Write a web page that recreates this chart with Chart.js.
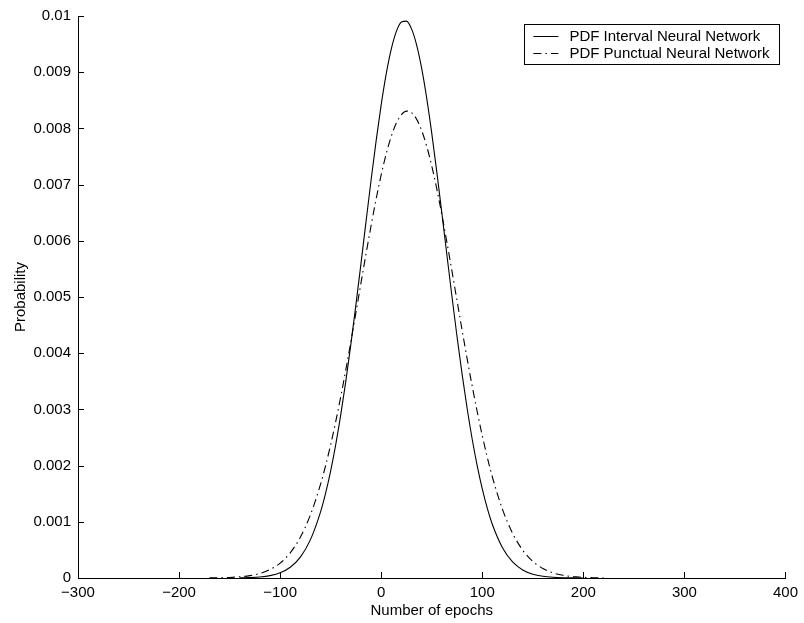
<!DOCTYPE html>
<html>
<head>
<meta charset="utf-8">
<script src="https://cdn.jsdelivr.net/npm/chart.js@4.4.1/dist/chart.umd.min.js"></script>
<style>
  html, body { margin: 0; padding: 0; background: #fff; }
  #wrap { width: 804px; height: 623px; }
</style>
</head>
<body>
<div id="wrap"><canvas id="c" width="804" height="623"></canvas></div>
<script>
// ---- Data ----
const seriesLabels = ['PDF Interval Neural Network', 'PDF Punctual Neural Network'];

const epochsInterval = [-140,-130,-120,-110,-100,-90,-80,-70,-60,-55,-50,-45,-40,-35,-30,-25,-20,-15,-10,-5,0,5,10,15,20,25,30,35,40,45,50,55,60,65,70,75,80,85,90,95,100,105,110,120,130,140,150,160,170,180,190,200];
const pdfInterval = [0.0000027,0.0000071,0.0000177,0.0000416,0.000092,0.000191,0.000372,0.000683,0.001177,0.001511,0.001908,0.002373,0.002906,0.003504,0.004161,0.004864,0.005598,0.006346,0.007082,0.007783,0.008422,0.008974,0.009414,0.009726,0.009892,0.009908,0.009771,0.009488,0.009072,0.008540,0.007917,0.007227,0.006495,0.005748,0.005009,0.004297,0.003631,0.003020,0.002473,0.001995,0.001585,0.001239,0.000953,0.000540,0.000287,0.000144,0.000067,0.0000298,0.0000124,0.0000048,0.0000018,0.0000006];

const epochsPunctual = [-170,-160,-150,-140,-130,-120,-110,-100,-90,-80,-70,-60,-55,-50,-45,-40,-35,-30,-25,-20,-15,-10,-5,0,5,10,15,20,25,30,35,40,45,50,55,60,65,70,75,80,85,90,95,100,105,110,120,130,140,150,160,170,180,190,200,210,220];
const pdfPunctual = [0.0000020,0.0000046,0.0000100,0.0000210,0.0000423,0.0000814,0.000150,0.000265,0.000448,0.000726,0.001125,0.001670,0.002001,0.002373,0.002783,0.003229,0.003706,0.004207,0.004725,0.005250,0.005770,0.006272,0.006746,0.007176,0.007551,0.007861,0.008095,0.008245,0.008308,0.008281,0.008165,0.007964,0.007684,0.007334,0.006924,0.006466,0.005973,0.005460,0.004936,0.004414,0.003904,0.003416,0.002958,0.002533,0.002145,0.001797,0.001222,0.000795,0.000495,0.000295,0.000169,0.000092,0.000048,0.000024,0.000012,0.0000054,0.0000024];

const xTicks = [-300,-200,-100,0,100,200,300,400];
const yTicks = [0,0.001,0.002,0.003,0.004,0.005,0.006,0.007,0.008,0.009,0.01];
const xTitle = 'Number of epochs';
const yTitle = 'Probability';

const FONT = 'Liberation Sans, Arial, Helvetica, sans-serif';
const dashDot = [8, 4, 1.5, 4];

const toPoints = (xs, ys) => xs.map((x, i) => ({ x: x, y: ys[i] }));

const innerTicks = {
  id: 'innerTicks',
  afterDraw(chart) {
    const ctx = chart.ctx, a = chart.chartArea;
    const xs = chart.scales.x, ys = chart.scales.y;
    ctx.save();
    ctx.strokeStyle = '#000';
    ctx.lineWidth = 1;
    ctx.beginPath();
    xTicks.forEach(v => {
      const px = Math.round(xs.getPixelForValue(v)) + 0.5;
      ctx.moveTo(px, a.bottom); ctx.lineTo(px, a.bottom - 6);
    });
    yTicks.forEach(v => {
      const py = Math.round(ys.getPixelForValue(v)) + 0.5;
      ctx.moveTo(a.left, py); ctx.lineTo(a.left + 6, py);
    });
    ctx.stroke();
    ctx.restore();
  }
};

const boxLegend = {
  id: 'boxLegend',
  afterDraw(chart) {
    const ctx = chart.ctx, a = chart.chartArea;
    ctx.save();
    ctx.font = '15px ' + FONT;
    const maxW = Math.max(...seriesLabels.map(s => ctx.measureText(s).width));
    const padL = 9, lineLen = 25, gap = 11, padR = 10, rowH = 17;
    const w = padL + lineLen + gap + maxW + padR;
    const h = 40;
    const right = a.right - 6, top = a.top + 8;
    const left = right - w;
    ctx.fillStyle = '#fff';
    ctx.fillRect(left, top, w, h);
    ctx.strokeStyle = '#000';
    ctx.lineWidth = 1;
    ctx.strokeRect(Math.round(left) + 0.5, Math.round(top) + 0.5, Math.round(w), Math.round(h));
    chart.data.datasets.forEach((ds, i) => {
      const cy = Math.round(top + 12 + i * rowH) + 0.5;
      ctx.beginPath();
      ctx.setLineDash(ds.borderDash || []);
      ctx.moveTo(left + padL, cy);
      ctx.lineTo(left + padL + lineLen, cy);
      ctx.strokeStyle = ds.borderColor;
      ctx.stroke();
      ctx.setLineDash([]);
      ctx.fillStyle = '#000';
      ctx.textBaseline = 'middle';
      ctx.textAlign = 'left';
      ctx.fillText(ds.label, left + padL + lineLen + gap, cy);
    });
    ctx.restore();
  }
};

new Chart(document.getElementById('c'), {
  type: 'line',
  data: {
    datasets: [
      {
        label: seriesLabels[0],
        data: toPoints(epochsInterval, pdfInterval),
        borderColor: '#000',
        borderWidth: 1.1,
        pointRadius: 0,
        fill: false,
        cubicInterpolationMode: 'monotone'
      },
      {
        label: seriesLabels[1],
        data: toPoints(epochsPunctual, pdfPunctual),
        borderColor: '#000',
        borderWidth: 1.1,
        borderDash: dashDot,
        pointRadius: 0,
        fill: false,
        cubicInterpolationMode: 'monotone'
      }
    ]
  },
  options: {
    responsive: false,
    animation: false,
    devicePixelRatio: 1,
    layout: { padding: { top: 15, right: 13, left: 0, bottom: 0 } },
    plugins: { legend: { display: false }, tooltip: { enabled: false } },
    scales: {
      x: {
        type: 'linear',
        min: -300, max: 400,
        afterBuildTicks(scale) { scale.ticks = xTicks.map(v => ({ value: v })); },
        afterFit(scale) { scale.height = 45; },
        grid: { display: false, drawTicks: false },
        border: { display: true, color: '#000', width: 1 },
        ticks: {
          color: '#000',
          font: { family: FONT, size: 15 },
          padding: 6,
          maxRotation: 0,
          autoSkip: false,
          callback: v => (v < 0 ? '\u2212' + Math.abs(v) : String(v))
        },
        title: {
          display: true, text: xTitle, color: '#000',
          font: { family: FONT, size: 15 },
          padding: { top: 0, bottom: 3 }
        }
      },
      y: {
        type: 'linear',
        min: 0, max: 0.01,
        afterBuildTicks(scale) { scale.ticks = yTicks.map(v => ({ value: v })); },
        afterFit(scale) { scale.width = 78; },
        grid: { display: false, drawTicks: false },
        border: { display: true, color: '#000', width: 1 },
        ticks: {
          color: '#000',
          font: { family: FONT, size: 15 },
          padding: 7,
          autoSkip: false,
          callback: v => String(Number(v.toFixed(4)))
        },
        title: {
          display: true, text: yTitle, color: '#000',
          font: { family: FONT, size: 15 },
          padding: { top: 12, bottom: 0 }
        }
      }
    }
  },
  plugins: [innerTicks, boxLegend]
});
</script>
</body>
</html>
